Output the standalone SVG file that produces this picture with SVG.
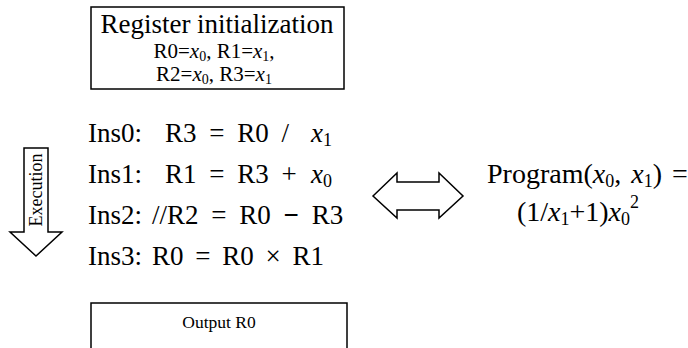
<svg xmlns="http://www.w3.org/2000/svg" width="688" height="348" viewBox="0 0 688 348">
<style>
text{font-family:"Liberation Serif","Times New Roman",serif;fill:#000}
.box{fill:#fff;stroke:#000;stroke-width:1.5}
.arr{fill:#fff;stroke:#000;stroke-width:1.5;stroke-linejoin:miter}
.ins{font-size:27px;word-spacing:6px}
.i{font-style:italic}
</style>
<g id="init">
<rect class="box" x="91" y="7" width="253" height="82"/>
<text x="217" y="33" font-size="27" text-anchor="middle">Register initialization</text>
<text x="214" y="58" font-size="21" text-anchor="middle">R0=<tspan class="i">x</tspan><tspan font-size="14" dy="3">0</tspan><tspan dy="-3">, R1=</tspan><tspan class="i">x</tspan><tspan font-size="14" dy="3">1</tspan><tspan dy="-3">,</tspan></text>
<text x="214" y="81" font-size="21" text-anchor="middle">R2=<tspan class="i">x</tspan><tspan font-size="14" dy="3">0</tspan><tspan dy="-3">, R3=</tspan><tspan class="i">x</tspan><tspan font-size="14" dy="3">1</tspan></text>
</g>
<g id="ins0"><text class="ins" x="88" y="142">Ins0:<tspan x="165">R3 = R0 /</tspan><tspan class="i" x="311">x</tspan><tspan font-size="18" dy="4">1</tspan></text></g>
<g id="ins1"><text class="ins" x="88" y="183">Ins1:<tspan x="165">R1 = R3 +</tspan><tspan class="i" x="311">x</tspan><tspan font-size="18" dy="4">0</tspan></text></g>
<g id="ins2"><text class="ins" x="88" y="224">Ins2:<tspan x="152">//R2 = R0 </tspan><tspan font-weight="bold">−</tspan><tspan> R3</tspan></text></g>
<g id="ins3"><text class="ins" x="88" y="265" style="word-spacing:5px">Ins3:<tspan x="152">R0 = R0 × R1</tspan></text></g>
<g id="output">
<rect class="box" x="91" y="303" width="256" height="60"/>
<text x="219" y="328" font-size="17.5" text-anchor="middle">Output R0</text>
</g>
<g id="execution">
<path class="arr" d="M24,148 H48 V232 H62 L36,256 L10,232 H24 Z"/>
<text transform="translate(42,190) rotate(-90)" font-size="18" text-anchor="middle">Execution</text>
</g>
<g id="program">
<text x="487" y="183" font-size="28" style="word-spacing:3px">Program(<tspan class="i">x</tspan><tspan font-size="18" dy="4">0</tspan><tspan dy="-4">, </tspan><tspan class="i">x</tspan><tspan font-size="18" dy="4">1</tspan><tspan dy="-4">) =</tspan></text>
<text x="578" y="221" font-size="28" text-anchor="middle">(1/<tspan class="i">x</tspan><tspan font-size="18" dy="4">1</tspan><tspan dy="-4">+1)</tspan><tspan class="i">x</tspan><tspan font-size="18" dy="4">0</tspan><tspan font-size="18" dy="-17">2</tspan></text>
</g>
<g id="connectors">
<path class="arr" d="M373,196 L397,173 V182 H439 V173 L463,196 L439,218 V210 H397 V218 Z"/>
</g>
</svg>
